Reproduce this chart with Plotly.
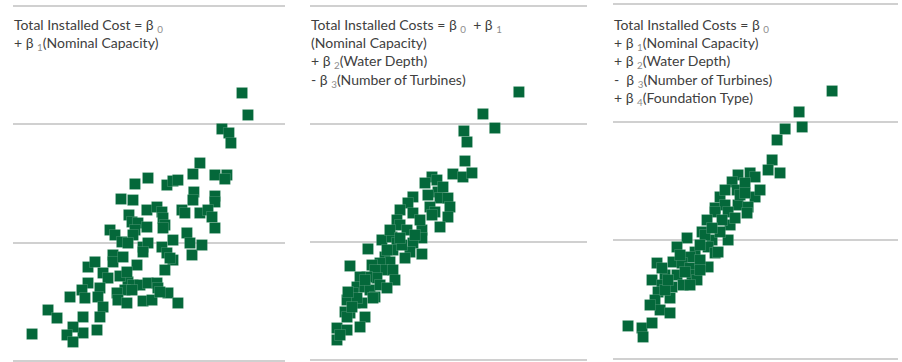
import plotly.graph_objects as go

# Actual total installed cost (y) against the cost predicted by each regression (x),
# both in the same cost units; grid lines every 100 units.

# Model 1: Nominal Capacity only
pred_m1 = [193.6, 198.6, 176.6, 182.5, 184.2, 158.0, 152.1, 170.7, 180.8, 179.1,
           114.1, 103.1, 130.1, 135.2, 139.4, 91.3, 101.4, 152.9, 152.1, 170.7,
           170.7, 113.2, 121.7, 125.9, 126.8, 98.0, 100.6, 105.6, 113.2, 142.8,
           145.3, 158.0, 164.8, 168.2, 128.4, 126.8, 170.7, 82.0, 86.2, 103.1,
           101.4, 92.1, 97.2, 109.9, 114.1, 135.2, 147.0, 149.6, 151.3, 159.7,
           125.9, 130.1, 135.2, 84.5, 84.5, 93.0, 63.4, 69.3, 104.8, 128.4,
           76.1, 80.3, 63.4, 58.3, 48.2, 60.8, 73.5, 71.8, 76.1, 97.2,
           101.4, 107.3, 114.1, 121.7, 122.5, 94.6, 100.6, 87.9, 88.7, 96.3,
           131.0, 109.9, 117.5, 139.4, 29.6, 37.2, 59.2, 73.5, 71.0, 59.2,
           50.7, 45.6, 50.7, 16.1, 90.4, 96.3, 132.7, 109.9, 124.2]
actual_m1 = [226.5, 207.9, 196.1, 192.7, 184.2, 167.3, 158.0, 157.2, 157.2, 153.8,
             154.6, 149.6, 148.7, 152.1, 152.9, 136.9, 136.0, 142.8, 136.0, 139.4,
             134.4, 127.6, 130.1, 125.9, 120.8, 123.4, 117.5, 116.6, 113.2, 127.6,
             125.1, 125.1, 127.6, 121.7, 114.9, 112.4, 112.4, 110.7, 106.5, 110.7,
             106.5, 100.6, 99.7, 96.3, 99.7, 102.2, 108.2, 99.7, 89.6, 98.0,
             96.3, 91.3, 85.3, 89.6, 83.7, 87.9, 79.4, 83.7, 81.1, 76.9,
             74.4, 70.1, 65.9, 60.0, 54.1, 53.2, 61.7, 54.1, 45.6, 66.8,
             64.2, 64.2, 65.9, 65.9, 61.7, 60.0, 60.0, 57.5, 51.5, 49.0,
             57.5, 50.7, 51.5, 49.0, 43.1, 36.3, 37.2, 37.2, 26.2, 23.7,
             28.7, 22.0, 16.1, 22.8, 71.8, 75.2, 87.0, 92.1, 58.3]

# Model 2: Nominal Capacity, Water Depth, Number of Turbines
pred_m2 = [176.6, 146.2, 156.3, 130.1, 132.7, 131.0, 120.8, 129.3, 136.9, 103.1,
           97.2, 107.3, 108.2, 109.9, 87.0, 82.8, 116.6, 118.3, 76.1, 101.4,
           105.6, 116.6, 87.0, 103.1, 109.9, 73.5, 76.1, 82.0, 94.6, 94.6,
           60.8, 49.0, 69.3, 73.5, 70.1, 87.0, 84.5, 94.6, 63.4, 67.6,
           59.2, 61.7, 52.4, 54.9, 33.8, 80.3, 70.1, 71.8, 56.6, 48.2,
           42.3, 39.7, 36.3, 46.5, 50.7, 59.2, 65.1, 54.9, 38.0, 31.3,
           33.8, 43.9, 46.5, 42.3, 29.6, 31.3, 22.8, 31.3, 22.8, 93.0,
           77.7, 39.7, 32.1, 53.2, 35.5, 67.6, 88.7, 112.4, 99.7, 76.1,
           65.1, 46.5, 25.4]
actual_m2 = [227.0, 208.4, 196.5, 194.0, 184.7, 168.6, 157.6, 155.1, 158.5, 155.1,
             150.0, 152.5, 142.4, 137.3, 138.2, 133.1, 137.3, 129.7, 127.2, 129.7,
             125.5, 121.2, 124.6, 122.9, 112.8, 118.7, 114.5, 110.2, 110.2, 103.5,
             101.8, 94.2, 104.3, 99.2, 93.3, 99.2, 91.6, 89.9, 87.4, 83.2,
             82.3, 76.4, 80.6, 76.4, 79.8, 86.5, 76.4, 67.9, 69.6, 70.5,
             70.5, 62.0, 56.9, 62.0, 59.5, 63.7, 61.2, 53.6, 48.5, 51.0,
             40.0, 48.5, 36.6, 28.2, 40.9, 36.6, 27.3, 25.6, 17.2, 118.7,
             97.5, 52.7, 57.8, 52.7, 45.1, 110.2, 106.0, 146.6, 139.8, 103.5,
             93.3, 67.9, 21.4]

# Model 3: adds Foundation Type
pred_m3 = [185.2, 157.3, 159.9, 145.5, 138.7, 134.5, 131.1, 141.2, 115.9, 120.1,
           105.7, 100.7, 104.9, 111.6, 90.5, 86.3, 120.1, 94.7, 105.7, 114.2,
           86.3, 97.3, 113.3, 79.5, 75.3, 99.0, 97.3, 62.6, 54.1, 83.7,
           80.4, 86.3, 88.8, 69.4, 65.1, 50.7, 58.4, 80.4, 37.2, 65.1,
           66.8, 44.0, 54.1, 71.0, 33.0, 41.4, 49.9, 59.2, 38.1, 35.5,
           48.2, 39.8, 48.2, 12.7, 24.5, 33.0, 25.4, 107.4, 92.2, 73.6,
           60.9, 44.0, 90.5, 77.8, 103.2, 124.3, 65.1, 41.4, 73.6, 83.7,
           111.6, 56.7, 46.5, 94.7, 31.3, 73.6]
actual_m3 = [226.4, 208.7, 196.0, 194.3, 185.0, 168.1, 159.6, 157.1, 157.1, 153.7,
             155.4, 149.5, 142.7, 148.6, 136.8, 127.5, 136.8, 130.0, 130.0, 128.3,
             124.1, 124.1, 123.2, 117.3, 107.2, 113.1, 100.4, 102.1, 94.5, 100.4,
             94.5, 89.4, 90.2, 90.2, 86.0, 81.8, 80.9, 77.6, 80.9, 76.7,
             70.8, 70.8, 70.8, 66.6, 66.6, 62.3, 60.6, 62.3, 56.4, 49.6,
             51.3, 41.2, 38.7, 27.7, 26.0, 30.2, 18.4, 138.5, 117.3, 83.5,
             73.3, 58.1, 107.2, 104.6, 119.0, 142.7, 62.3, 76.7, 96.2, 110.5,
             140.1, 87.7, 66.6, 142.7, 45.4, 75.0]


def coef(k):
    """Beta coefficient with a light grey subscript index."""
    return f"β <sub><span style='color:#8c8c8c'>{k}</span></sub>"


model_labels = [
    f"Total Installed Cost = {coef(0)}<br>"
    f"+ {coef(1)}(Nominal Capacity)",
    f"Total Installed Costs = {coef(0)}\u00a0 + {coef(1)}<br>"
    "(Nominal Capacity)<br>"
    f"+ {coef(2)}(Water Depth)<br>"
    f"- {coef(3)}(Number of Turbines)",
    f"Total Installed Costs = {coef(0)}<br>"
    f"+ {coef(1)}(Nominal Capacity)<br>"
    f"+ {coef(2)}(Water Depth)<br>"
    f"-\u00a0 {coef(3)}(Number of Turbines)<br>"
    f"+ {coef(4)}(Foundation Type)",
]

panels = [(pred_m1, actual_m1), (pred_m2, actual_m2), (pred_m3, actual_m3)]

W, H = 902, 362
GREEN = "#04683a"

# panel geometry (pixels): left, right, and y axis range so that grid lines land cleanly
x_px = [(13, 285), (310, 587), (613, 898)]
y_ranges = [(-0.85, 305.07), (-1.44, 304.82), (-2.79, 303.38)]
px_per_unit = 1.183

fig = go.Figure()
for i, (xs, ys) in enumerate(panels):
    sfx = "" if i == 0 else str(i + 1)
    fig.add_trace(go.Scatter(
        x=xs, y=ys, mode="markers",
        xaxis="x" + sfx, yaxis="y" + sfx,
        marker=dict(symbol="square", size=11, color=GREEN,
                    line=dict(width=0.3, color="rgba(220,238,228,0.6)")),
        hoverinfo="skip", showlegend=False,
    ))
    left, right = x_px[i]
    fig.layout["xaxis" + sfx] = dict(
        domain=[left / W, right / W], range=[0, (right - left) / px_per_unit],
        showgrid=False, zeroline=False, showline=False,
        showticklabels=False, ticks="", anchor="y" + sfx,
    )
    fig.layout["yaxis" + sfx] = dict(
        domain=[0, 1], range=list(y_ranges[i]), dtick=100, tick0=0,
        showgrid=True, gridcolor="#d0d0d0", gridwidth=2,
        zeroline=False, showline=False, showticklabels=False, ticks="",
        anchor="x" + sfx,
    )
    fig.add_annotation(
        text=model_labels[i], xref="paper", yref="paper",
        x=(left - 1) / W, y=1 - 13.5 / H, xanchor="left", yanchor="top",
        align="left", showarrow=False,
        font=dict(family="Lato, 'Open Sans', sans-serif", size=14, color="#404040"),
    )

fig.update_layout(
    width=W, height=H, margin=dict(l=0, r=0, t=0, b=0),
    paper_bgcolor="white", plot_bgcolor="white",
)

fig.write_html("out.html")
